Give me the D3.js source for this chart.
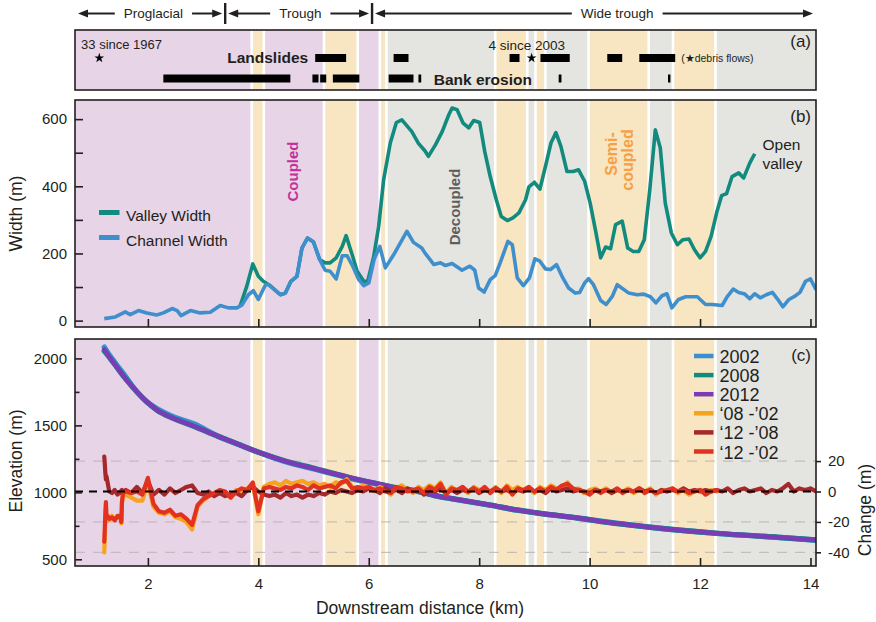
<!DOCTYPE html>
<html>
<head>
<meta charset="utf-8">
<script src="https://cdn.jsdelivr.net/npm/d3@7"></script>
<style>
  body { margin: 0; background: #fff; }
  svg { display: block; font-family: "Liberation Sans", Arial, Helvetica, sans-serif; }
</style>
</head>
<body>
<svg id="chart" width="876" height="622"></svg>
<script>
// ---------- data ----------
const kmDomain = [0.68, 14.1];

// valley reaches shown across the top
const reachNames = ["Proglacial", "Trough", "Wide trough"];
const reachEdges = [0.68, 3.4, 6.06, 14.1];

// coupling zones along the valley (km)
const zoneEdges = [0.68, 3.88, 4.10, 5.19, 5.80, 6.20, 6.32, 8.29, 8.87, 9.02, 9.20, 9.98, 11.07, 11.51, 12.28, 14.1];
const zoneKinds = ["coupled", "transition", "coupled", "transition", "coupled", "transition",
  "decoupled", "transition", "decoupled", "transition", "decoupled", "transition",
  "decoupled", "transition", "decoupled"];

// (a) hillslope processes, km ranges
const landslides = [[5.03, 5.59], [6.45, 6.72], [8.55, 8.73], [9.11, 9.64], [10.32, 10.59], [10.90, 11.55]];
const bankErosion = [[2.28, 4.58], [4.98, 5.09], [5.12, 5.23], [5.35, 5.83], [6.36, 6.81], [6.90, 6.95], [9.44, 9.49], [11.42, 11.46]];
const debrisFlowKm = [1.12, 8.95];

// (b) widths
const channelKm = [1.21,1.41,1.59,1.68,1.83,1.98,2.16,2.28,2.44,2.53,
  2.60,2.77,2.95,3.13,3.31,3.46,3.61,3.70,3.82,3.91,
  4.00,4.13,4.19,4.31,4.40,4.49,4.59,4.70,4.79,4.89,
  5.00,5.11,5.21,5.30,5.41,5.52,5.61,5.71,5.82,5.91,
  6.00,6.10,6.20,6.30,6.45,6.57,6.69,6.81,6.96,7.02,
  7.18,7.30,7.39,7.51,7.69,7.83,7.92,7.99,8.09,8.20,
  8.29,8.38,8.52,8.60,8.69,8.80,8.91,9.01,9.10,9.20,
  9.29,9.40,9.50,9.62,9.74,9.82,9.91,9.98,10.07,10.20,
  10.30,10.41,10.50,10.71,10.86,10.98,11.10,11.20,11.31,11.40,
  11.49,11.61,11.74,11.95,12.10,12.22,12.40,12.49,12.60,12.70,
  12.81,12.90,12.99,13.09,13.20,13.31,13.40,13.50,13.61,13.71,
  13.81,13.91,14.00,14.10];
const channelWidth = [6,11,26,18,30,23,17,23,36,30,
  15,30,23,25,45,38,38,46,77,89,
  63,107,107,90,77,82,117,132,216,246,
  234,182,150,147,124,193,193,162,122,104,
  112,184,221,157,196,231,266,233,216,201,
  167,172,164,170,150,162,150,97,85,122,
  134,172,236,226,127,104,127,184,177,154,
  152,167,132,97,82,84,112,125,107,60,
  48,72,107,82,77,79,71,53,74,80,
  38,63,71,71,48,48,45,71,94,84,
  79,65,80,68,77,84,65,41,63,72,
  84,117,124,92];

const valleyKm = [3.67,3.79,3.90,4.00,4.09,4.19,4.31,4.40,4.49,4.59,
  4.70,4.79,4.89,5.00,5.11,5.21,5.30,5.41,5.52,5.59,
  5.70,5.79,5.91,5.98,6.09,6.18,6.27,6.39,6.50,6.60,
  6.78,6.90,7.02,7.08,7.21,7.33,7.45,7.51,7.60,7.71,
  7.81,7.90,8.01,8.10,8.20,8.31,8.40,8.51,8.61,8.72,
  8.84,8.90,9.00,9.10,9.20,9.30,9.39,9.48,9.59,9.70,
  9.80,9.91,10.01,10.11,10.20,10.29,10.38,10.47,10.59,10.69,
  10.79,10.89,10.99,11.09,11.19,11.28,11.37,11.48,11.59,11.69,
  11.80,11.90,12.00,12.10,12.20,12.30,12.39,12.48,12.58,12.70,
  12.79,12.90,12.99];
const valleyWidth = [43,102,169,132,117,107,90,77,82,117,
  132,216,246,234,182,172,172,187,221,253,
  196,147,117,117,191,281,420,529,590,598,
  563,528,505,489,524,563,613,633,628,588,
  574,596,590,504,429,360,310,298,306,321,
  360,398,412,392,459,529,560,519,444,444,
  449,415,350,266,187,219,214,286,296,216,
  206,206,241,390,568,514,350,261,226,241,
  243,211,187,206,251,321,372,378,429,440,
  425,469,497];

// (c) long profiles (m)
const profileKm = [1.21,1.32,1.44,1.59,1.80,1.98,2.16,2.46,2.83,3.25,
  3.67,3.98,4.46,5.06,5.48,5.67,6.27,6.39,6.87,7.30,
  7.48,8.20,8.69,9.11,9.89,10.01,11.10,12.31,13.52,14.09];
const elev2002 = [2084,2015,1949,1867,1751,1676,1626,1565,1512,1423,
  1353,1303,1233,1169,1125,1104,1052,1041,1009,966,
  954,904,867,842,802,795,739,694,661,644];
const elev2008 = [2055,1999,1933,1851,1751,1676,1615,1553,1494,1422,
  1353,1303,1238,1174,1129,1109,1053,1042,1010,967,
  955,905,868,843,803,795,739,694,661,644];
const elev2012 = [2068,2000,1933,1851,1751,1676,1615,1553,1495,1422,
  1353,1303,1236,1172,1129,1109,1054,1042,1010,967,
  955,905,868,843,803,795,739,694,661,644];

// (c) elevation change between surveys (m)
const changeKm = [1.21,1.22,1.23,1.24,1.25,1.27,1.30,1.35,1.40,1.45,1.50,1.52,1.53,1.55,
  1.6,1.7,1.8,1.9,2.0,2.1,2.2,2.3,2.4,2.5,
  2.6,2.7,2.8,2.9,3.0,3.1,3.2,3.3,3.4,3.5,
  3.6,3.7,3.8,3.9,4.0,4.1,4.2,4.3,4.4,4.5,
  4.6,4.7,4.8,4.9,5.0,5.1,5.2,5.3,5.4,5.5,
  5.6,5.7,5.8,5.9,6.0,6.1,6.2,6.3,6.4,6.5,
  6.6,6.7,6.8,6.9,7.0,7.1,7.2,7.3,7.4,7.5,
  7.6,7.7,7.8,7.9,8.0,8.1,8.2,8.3,8.4,8.5,
  8.6,8.7,8.8,8.9,9.0,9.1,9.2,9.3,9.4,9.5,
  9.6,9.7,9.8,9.9,10.0,10.1,10.2,10.3,10.4,10.5,
  10.6,10.7,10.8,10.9,11.0,11.1,11.2,11.3,11.4,11.5,
  11.6,11.7,11.8,11.9,12.0,12.1,12.2,12.3,12.4,12.5,
  12.6,12.7,12.8,12.9,13.0,13.1,13.2,13.3,13.4,13.5,
  13.6,13.7,13.8,13.9,14.0,14.1];
const change08_02 = [-40,-30,-18,-10,-20,-17,-19,-16,-18,-17,-15,-21,-8,-3,
  -2,-4,-6,-6,6,-10,-14,-15,-13,-17,
  -18,-20,-25,-10,-6,-3,-1,0,-1,-4,
  1,0,2,5,-15,3,5,6,4,7,
  5,6,7,5,6,4,5,3,6,5,
  8,3,1,4,2,0,3,1,-2,2,
  4,1,-1,3,1,4,2,6,-1,3,
  0,2,-1,3,1,2,0,3,-1,4,
  1,3,0,2,-1,3,1,4,2,3,
  6,1,2,-1,1,2,0,2,-1,1,
  0,2,-1,1,0,2,-2,1,0,2,
  -1,1,-2,0,1,-1,1,0,null,null,
  null,null,null,null,null,null,null,null,null,null,
  null,null,null,null,null,null];
const change12_08 = [23,18,12,8,10,6,0,-1,1,-2,0,-1,1,0,
  1,-1,3,-1,7,-2,1,-2,2,-1,
  1,3,4,-1,-2,0,-3,-1,-3,-2,
  -1,-3,1,3,0,-2,-3,-2,-4,-1,
  -3,-2,-4,-2,-3,-1,-2,0,-1,1,
  0,-1,1,0,2,1,-1,2,0,1,
  -1,2,0,1,-2,1,0,2,-1,1,
  -1,1,0,2,-1,1,0,2,0,1,
  -1,1,0,2,0,1,-1,2,0,1,
  2,0,1,0,-1,1,0,1,-1,1,
  0,1,0,2,0,1,-1,1,0,1,
  0,2,0,1,0,1,0,1,0,2,
  -1,1,2,0,1,2,-1,1,0,2,
  5,0,2,1,2,0];
const change12_02 = [-33,-24,-14,-7,-17,-16,-18,-17,-19,-16,-17,-20,-7,-1,
  0,-1,0,-2,9,-8,-13,-14,-12,-16,
  -15,-18,-22,-9,-5,-3,-1,1,0,-4,
  0,2,1,6,-13,2,3,2,1,3,
  2,4,3,1,4,2,3,4,2,6,
  7,2,3,2,3,1,2,0,-1,3,
  2,0,1,2,-1,3,1,5,-2,2,
  1,3,0,2,0,3,-1,2,0,3,
  -2,2,1,3,0,2,0,3,1,4,
  5,2,1,0,-2,1,-1,1,0,2,
  -1,1,0,2,-1,1,-1,0,1,2,
  0,1,-1,0,1,-2,0,1,null,null,
  null,null,null,null,null,null,null,null,null,null,
  null,null,null,null,null,null];

// axis ticks
const kmTicks = [2, 4, 6, 8, 10, 12, 14];
const widthTicks = [0, 100, 200, 300, 400, 500, 600];
const widthLabels = [0, 200, 400, 600];
const elevTicks = [500, 1000, 1500, 2000];
const elevMinor = [750, 1250, 1750];
const changeTicks = [-40, -20, 0, 20];
const changeGrid = [-40, -20, 20];

const profileNames = ["2002", "2008", "2012"];
const changeNames = ["\u201808 -\u201902", "\u201812 -\u201908", "\u201812 -\u201902"];

// ---------- layout & styles ----------
const X0 = 75, X1 = 816;
const PA = { top: 30, bottom: 90 };
const PB = { top: 100, bottom: 327 };
const PC = { top: 339, bottom: 566 };
const ink = "#231f20";
const zoneFill = { coupled: "#e8d4e7", transition: "#f8e6c2", decoupled: "#e4e4e0" };
const profileColors = ["#3a8fd0", "#128a7e", "#7a3cb6"];
const changeColors = ["#f6a31e", "#a5282b", "#e2321f"];
const valleyColor = "#128a7e", channelColor = "#3f8fcd";

const x = d3.scaleLinear().domain(kmDomain).range([X0, X1]);
const yW = d3.scaleLinear().domain([-19, 657]).range([PB.bottom, PB.top]);
const yE = d3.scaleLinear().domain([450, 2145]).range([PC.bottom, PC.top]);
const yC = d3.scaleLinear().domain([-49, 100.3]).range([PC.bottom, PC.top]);

const svg = d3.select("#chart");
const defs = svg.append("defs");

function clipFor(id, p) {
  defs.append("clipPath").attr("id", id).append("rect")
    .attr("x", X0).attr("y", p.top).attr("width", X1 - X0).attr("height", p.bottom - p.top);
  return `url(#${id})`;
}

function drawZones(g, p) {
  const gap = 1.3, last = zoneKinds.length - 1;
  g.selectAll("rect.zone").data(zoneKinds).join("rect")
    .attr("class", "zone")
    .attr("x", (k, i) => x(zoneEdges[i]) + (i === 0 ? 0 : gap))
    .attr("width", (k, i) => x(zoneEdges[i + 1]) - x(zoneEdges[i]) - (i === 0 ? 0 : gap) - (i === last ? 0 : gap))
    .attr("y", p.top).attr("height", p.bottom - p.top)
    .attr("fill", k => zoneFill[k]);
}

function drawFrame(p) {
  svg.append("rect").attr("x", X0).attr("y", p.top)
    .attr("width", X1 - X0).attr("height", p.bottom - p.top)
    .attr("fill", "none").attr("stroke", ink).attr("stroke-width", 1.6);
}

function styleAxis(g) {
  g.select(".domain").remove();
  g.selectAll(".tick line").attr("stroke", ink).attr("stroke-width", 1.6);
  g.selectAll(".tick text").attr("fill", ink).attr("font-size", 15)
    .attr("font-family", "\"Liberation Sans\", Arial, sans-serif");
}

function arrowHead(g, tipX, y, dir) {
  const L = 10, H = 4;
  g.append("path")
    .attr("d", `M${tipX},${y} L${tipX - dir * L},${y - H} L${tipX - dir * L},${y + H} Z`)
    .attr("fill", ink);
}

// ---------- header: valley reaches ----------
const header = svg.append("g");
const headerY = 13.5;
const reachLabelKm = [2.10, 4.76, 10.5];
reachEdges.slice(1, -1).forEach(k => {
  header.append("line").attr("x1", x(k)).attr("x2", x(k)).attr("y1", 3).attr("y2", 24)
    .attr("stroke", ink).attr("stroke-width", 2.4);
});
reachNames.forEach((name, i) => {
  const cx = x(reachLabelKm[i]);
  const t = header.append("text").attr("x", cx).attr("y", 18)
    .attr("text-anchor", "middle").attr("font-size", 13.5).attr("fill", ink).text(name);
  const half = t.node().getComputedTextLength() / 2;
  const leftTip = x(reachEdges[i]) + 3, rightTip = x(reachEdges[i + 1]) - 3;
  header.append("line").attr("x1", cx - half - 9).attr("x2", leftTip + 6)
    .attr("y1", headerY).attr("y2", headerY).attr("stroke", ink).attr("stroke-width", 2);
  arrowHead(header, leftTip, headerY, -1);
  header.append("line").attr("x1", cx + half + 9).attr("x2", rightTip - 6)
    .attr("y1", headerY).attr("y2", headerY).attr("stroke", ink).attr("stroke-width", 2);
  arrowHead(header, rightTip, headerY, 1);
});

// ---------- panel (a) ----------
const ga = svg.append("g");
drawZones(ga, PA);
const rowLand = 58, rowBank = 78.5, barH = 8;
ga.selectAll("rect.land").data(landslides).join("rect").attr("class", "land")
  .attr("x", d => x(d[0])).attr("width", d => x(d[1]) - x(d[0]))
  .attr("y", rowLand - barH / 2).attr("height", barH).attr("fill", "#000");
ga.selectAll("rect.bank").data(bankErosion).join("rect").attr("class", "bank")
  .attr("x", d => x(d[0])).attr("width", d => Math.max(2.4, x(d[1]) - x(d[0])))
  .attr("y", rowBank - barH / 2).attr("height", barH).attr("fill", "#000");
const star = d3.symbol(d3.symbolStar).size(30);
ga.selectAll("path.df").data(debrisFlowKm).join("path").attr("class", "df")
  .attr("d", star).attr("transform", d => `translate(${x(d)},${rowLand})`).attr("fill", "#000");
ga.append("text").attr("x", x(0.79)).attr("y", 49).attr("font-size", 13).attr("fill", ink).text("33 since 1967");
ga.append("text").attr("x", x(8.17)).attr("y", 50).attr("font-size", 13.5).attr("fill", ink).text("4 since 2003");
ga.append("text").attr("x", x(landslides[0][0]) - 7).attr("y", 63).attr("text-anchor", "end")
  .attr("font-size", 15.5).attr("font-weight", "bold").attr("fill", ink).text("Landslides");
ga.append("text").attr("x", x(bankErosion[5][1]) + 12.5).attr("y", 85)
  .attr("font-size", 15.5).attr("font-weight", "bold").attr("fill", ink).text("Bank erosion");
ga.append("text").attr("x", x(landslides[5][1]) + 6).attr("y", 62)
  .attr("font-size", 10.5).attr("fill", ink).text("(\u2605debris flows)");
ga.append("text").attr("x", 811).attr("y", 47).attr("text-anchor", "end")
  .attr("font-size", 17).attr("fill", ink).text("(a)");
drawFrame(PA);

// ---------- panel (b) ----------
const gb = svg.append("g");
drawZones(gb, PB);
const clipB = clipFor("clipB", PB);
const valleyPts = valleyKm.map((k, i) => [k, valleyWidth[i]]);
const channelPts = channelKm.map((k, i) => [k, channelWidth[i]]);
const lineW = d3.line().x(d => x(d[0])).y(d => yW(d[1]));
gb.append("path").datum(valleyPts).attr("d", lineW).attr("clip-path", clipB)
  .attr("fill", "none").attr("stroke", valleyColor).attr("stroke-width", 3.6).attr("stroke-linejoin", "round");
gb.append("path").datum(channelPts).attr("d", lineW).attr("clip-path", clipB)
  .attr("fill", "none").attr("stroke", channelColor).attr("stroke-width", 3.6).attr("stroke-linejoin", "round");

function rotLabel(g, cx, cy, label, opts) {
  return g.append("text").attr("transform", `translate(${cx},${cy}) rotate(-90)`)
    .attr("text-anchor", "middle").attr("dy", "0.35em")
    .attr("font-size", opts.size).attr("fill", opts.color)
    .attr("font-weight", opts.weight || "normal").text(label);
}
rotLabel(gb, 292.5, 171.5, "Coupled", { size: 15, color: "#c2309a", weight: "bold" });
rotLabel(gb, 454.5, 207, "Decoupled", { size: 15, color: "#5e5e5e", weight: "bold" });
rotLabel(gb, 611, 154, "Semi-", { size: 16, color: "#f6a048", weight: "bold" });
rotLabel(gb, 627.5, 160, "coupled", { size: 16, color: "#f6a048", weight: "bold" });
gb.append("text").attr("x", 762.5).attr("y", 150).attr("font-size", 15.5).attr("fill", ink).text("Open");
gb.append("text").attr("x", 762.5).attr("y", 169).attr("font-size", 15.5).attr("fill", ink).text("valley");
gb.append("text").attr("x", 811).attr("y", 122).attr("text-anchor", "end")
  .attr("font-size", 17).attr("fill", ink).text("(b)");

const legB = [["Valley Width", valleyColor], ["Channel Width", channelColor]];
legB.forEach((d, i) => {
  const yy = 212.5 + i * 25;
  gb.append("line").attr("x1", 99).attr("x2", 119.5).attr("y1", yy).attr("y2", yy)
    .attr("stroke", d[1]).attr("stroke-width", 5);
  gb.append("text").attr("x", 126).attr("y", yy + 8.8).attr("font-size", 15.5).attr("fill", ink).text(d[0]);
});

svg.append("g").attr("transform", `translate(0,${PB.bottom})`)
  .call(d3.axisTop(x).tickValues(kmTicks).tickSize(8).tickFormat("")).call(styleAxis);
svg.append("g").attr("transform", `translate(${X0},0)`)
  .call(d3.axisRight(yW).tickValues(widthTicks).tickSize(8).tickFormat("")).call(styleAxis);
svg.append("g").attr("transform", `translate(${X0},0)`)
  .call(d3.axisLeft(yW).tickValues(widthLabels).tickSize(0).tickPadding(8).tickFormat(d => String(d)))
  .call(styleAxis);
drawFrame(PB);
svg.append("text").attr("transform", `translate(16,${(PB.top + PB.bottom) / 2}) rotate(-90)`)
  .attr("dy", "0.35em").attr("text-anchor", "middle").attr("font-size", 17.5).attr("fill", ink).text("Width (m)");

// ---------- panel (c) ----------
const gc = svg.append("g");
drawZones(gc, PC);
const clipC = clipFor("clipC", PC);
gc.selectAll("line.grid").data(changeGrid).join("line").attr("class", "grid")
  .attr("x1", X0).attr("x2", X1).attr("y1", d => yC(d)).attr("y2", d => yC(d))
  .attr("stroke", "#b9b6b6").attr("stroke-width", 1).attr("stroke-dasharray", "10,8");

const lineE = d3.line().x(d => x(d[0])).y(d => yE(d[1])).curve(d3.curveMonotoneX);
[elev2002, elev2008, elev2012].forEach((arr, i) => {
  gc.append("path").datum(profileKm.map((k, j) => [k, arr[j]]))
    .attr("d", lineE).attr("clip-path", clipC).attr("fill", "none")
    .attr("stroke", profileColors[i]).attr("stroke-width", i === 2 ? 4.6 : 5.4)
    .attr("stroke-linecap", "round");
});

const lineC = d3.line().defined(d => d[1] != null).x(d => x(d[0])).y(d => yC(d[1]));
[change08_02, change12_08, change12_02].forEach((arr, i) => {
  gc.append("path").datum(changeKm.map((k, j) => [k, arr[j]]))
    .attr("d", lineC).attr("clip-path", clipC).attr("fill", "none")
    .attr("stroke", changeColors[i]).attr("stroke-width", 4.2)
    .attr("stroke-linejoin", "round").attr("stroke-linecap", "round");
});

gc.append("line").attr("x1", X0).attr("x2", X1).attr("y1", yC(0)).attr("y2", yC(0))
  .attr("stroke", "#000").attr("stroke-width", 2).attr("stroke-dasharray", "8,6");

const legC = profileNames.map((n, i) => [n, profileColors[i]])
  .concat(changeNames.map((n, i) => [n, changeColors[i]]));
legC.forEach((d, i) => {
  const yy = 356 + i * 19.1;
  gc.append("line").attr("x1", 694).attr("x2", 713.5).attr("y1", yy).attr("y2", yy)
    .attr("stroke", d[1]).attr("stroke-width", 4.5);
  gc.append("text").attr("x", 719.5).attr("y", yy + 7).attr("font-size", 18).attr("fill", ink).text(d[0]);
});
gc.append("text").attr("x", 811).attr("y", 361).attr("text-anchor", "end")
  .attr("font-size", 17).attr("fill", ink).text("(c)");

svg.append("g").attr("transform", `translate(0,${PC.bottom})`)
  .call(d3.axisTop(x).tickValues(kmTicks).tickSize(8).tickFormat("")).call(styleAxis);
svg.append("g").attr("transform", `translate(0,${PC.bottom})`)
  .call(d3.axisBottom(x).tickValues(kmTicks).tickSize(0).tickPadding(12).tickFormat(d => String(d)))
  .call(styleAxis);
svg.append("g").attr("transform", `translate(${X0},0)`)
  .call(d3.axisRight(yE).tickValues(elevTicks).tickSize(7).tickFormat("")).call(styleAxis);
svg.append("g").attr("transform", `translate(${X0},0)`)
  .call(d3.axisRight(yE).tickValues(elevMinor).tickSize(4.5).tickFormat("")).call(styleAxis);
svg.append("g").attr("transform", `translate(${X0},0)`)
  .call(d3.axisLeft(yE).tickValues(elevTicks).tickSize(0).tickPadding(8).tickFormat(d => String(d)))
  .call(styleAxis);
svg.append("g").attr("transform", `translate(${X1},0)`)
  .call(d3.axisRight(yC).tickValues(changeTicks).tickSize(5).tickPadding(7).tickFormat(d => String(d)))
  .call(styleAxis);
drawFrame(PC);

svg.append("text").attr("transform", `translate(16,461) rotate(-90)`)
  .attr("dy", "0.35em").attr("text-anchor", "middle").attr("font-size", 17.5).attr("fill", ink).text("Elevation (m)");
svg.append("text").attr("transform", `translate(865,510) rotate(-90)`)
  .attr("dy", "0.35em").attr("text-anchor", "middle").attr("font-size", 17.5).attr("fill", ink).text("Change (m)");
svg.append("text").attr("x", 420).attr("y", 614).attr("text-anchor", "middle")
  .attr("font-size", 17.5).attr("fill", ink).text("Downstream distance (km)");
</script>
</body>
</html>
